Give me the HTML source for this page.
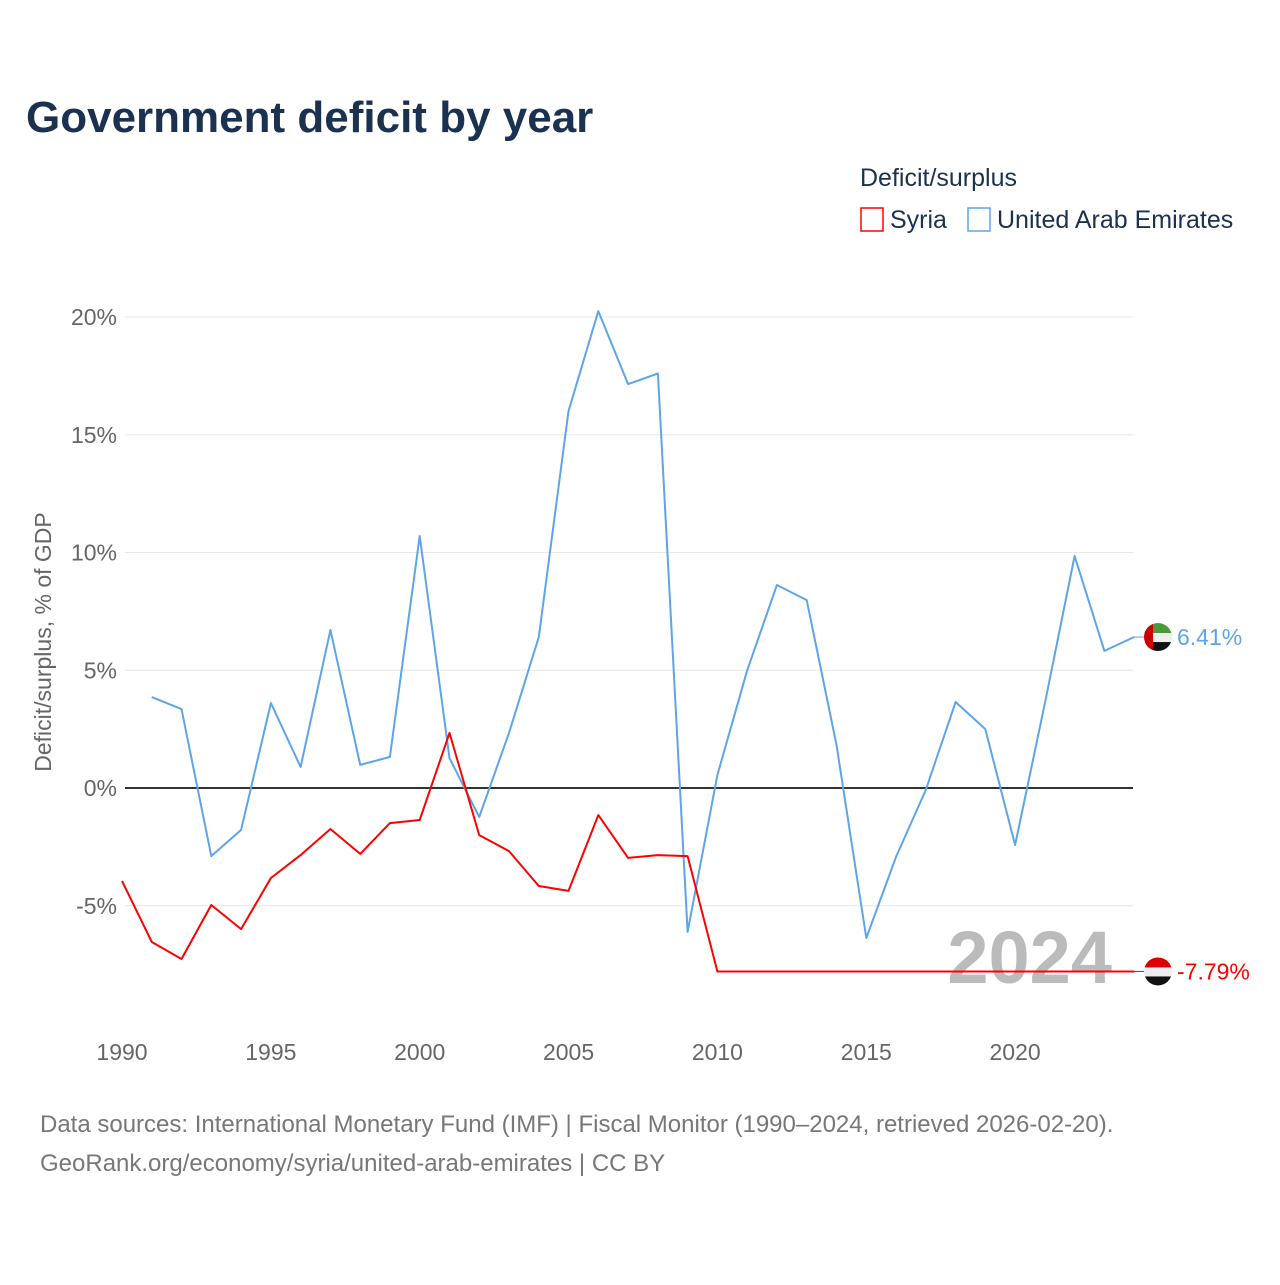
<!DOCTYPE html>
<html><head><meta charset="utf-8"><style>
body{margin:0;background:#fff;font-family:"Liberation Sans",sans-serif;}
svg text{font-family:"Liberation Sans",sans-serif;}
</style></head><body>
<svg width="1280" height="1280" viewBox="0 0 1280 1280">
<text x="26" y="132" font-size="44" font-weight="bold" fill="#1b3150">Government deficit by year</text>
<text x="860" y="186" font-size="25" fill="#1b3150">Deficit/surplus</text>
<g><rect x="861" y="208" width="22" height="23" fill="none" stroke="#f00" stroke-width="1.5"/><text x="890" y="228" font-size="25" fill="#1b3150">Syria</text></g>
<g><rect x="968" y="208" width="22" height="23" fill="none" stroke="#5da5e8" stroke-width="1.5"/><text x="997" y="228" font-size="25" fill="#1b3150">United Arab Emirates</text></g>
<g id="grid"></g>
<text transform="translate(51,642) rotate(-90)" text-anchor="middle" font-size="23" fill="#666">Deficit/surplus, % of GDP</text>
<text x="1112" y="983" text-anchor="end" font-size="74" font-weight="bold" fill="#bbb">2024</text>
<g id="lines"></g>
<text x="40" y="1132" font-size="24" fill="#777">Data sources: International Monetary Fund (IMF) | Fiscal Monitor (1990–2024, retrieved 2026-02-20).</text>
<text x="40" y="1171" font-size="24" fill="#777">GeoRank.org/economy/syria/united-arab-emirates | CC BY</text>
</svg>
<script>
const years=[1990,1991,1992,1993,1994,1995,1996,1997,1998,1999,2000,2001,2002,2003,2004,2005,2006,2007,2008,2009,2010,2011,2012,2013,2014,2015,2016,2017,2018,2019,2020,2021,2022,2023,2024];
const syria=[-3.95,-6.54,-7.26,-4.97,-5.99,-3.82,-2.85,-1.74,-2.8,-1.49,-1.36,2.34,-2.0,-2.68,-4.16,-4.37,-1.15,-2.97,-2.85,-2.89,-7.79,-7.79,-7.79,-7.79,-7.79,-7.79,-7.79,-7.79,-7.79,-7.79,-7.79,-7.79,-7.79,-7.79,-7.79];
const uae=[null,3.86,3.35,-2.89,-1.78,3.61,0.89,6.71,0.98,1.32,10.7,1.27,-1.23,2.34,6.41,16.0,20.25,17.15,17.6,-6.11,0.55,5.0,8.62,7.98,1.83,-6.37,-2.93,-0.08,3.65,2.5,-2.42,3.6,9.85,5.82,6.41];
const yTicks=[-5,0,5,10,15,20];
const xTicks=[1990,1995,2000,2005,2010,2015,2020];
const NS="http://www.w3.org/2000/svg";
const X=y=>122+(y-1990)*29.77;
const Y=v=>788-v*23.55;
function mk(t,a,p){const e=document.createElementNS(NS,t);for(const k in a)e.setAttribute(k,a[k]);p.appendChild(e);return e;}
const g=document.getElementById('grid');
yTicks.forEach(v=>{
 const l=mk('line',{x1:125,x2:1133,y1:Y(v),y2:Y(v),stroke:v===0?'#333':'#e8e8e8','stroke-width':v===0?2:1},g);
 
 
 const t=mk('text',{x:117,y:Y(v)+8,'text-anchor':'end','font-size':23,fill:'#666'},g);t.textContent=v+'%';
 
 
});
xTicks.forEach(v=>{
 const t=mk('text',{x:X(v),y:1060,'text-anchor':'middle','font-size':23,fill:'#666'},g);t.textContent=v;
 
 
});
const L=document.getElementById('lines');
function line(arr,col,name){
 let d='';arr.forEach((v,i)=>{if(v===null)return;d+=(d?'L':'M')+X(years[i]).toFixed(1)+','+Y(v).toFixed(1);});
 const p=mk('path',{d:d,fill:'none',stroke:col,'stroke-width':2,'stroke-linejoin':'round'},L);
 
 
}
line(uae,'#5da5e8','uae-line');
line(syria,'#f00','syria-line');
function endLabel(arr,col,name,flag){
 const v=arr[arr.length-1];const y=Y(v);
 mk('line',{x1:1134,x2:1146,y1:y,y2:y,stroke:col,'stroke-width':1},L);
 const c=mk('g',{},L);
 
 
 mk('clipPath',{id:name+'c'},c).appendChild(document.createElementNS(NS,'circle')).setAttribute('r',14);
 c.querySelector('circle').setAttribute('cx',1158);c.querySelector('circle').setAttribute('cy',y);
 const gg=mk('g',{'clip-path':'url(#'+name+'c)'},c);
 flag.forEach(f=>mk('rect',{x:1144+f[0],y:y-14+f[1],width:f[2],height:f[3],fill:f[4]},gg));
 const t=mk('text',{x:1177,y:y+8,'font-size':23,fill:col},L);t.textContent=v.toFixed(2)+'%';
 
 
}
endLabel(uae,'#5da5e8','uae',[[0,0,28,10,'#4a9a3a'],[0,10,28,9,'#eee'],[0,19,28,9,'#111'],[0,0,9,28,'#c00']]);
endLabel(syria,'#f00','syria',[[0,0,28,10,'#d00'],[0,10,28,9,'#eee'],[0,19,28,9,'#111']]);
</script>
</body></html>
